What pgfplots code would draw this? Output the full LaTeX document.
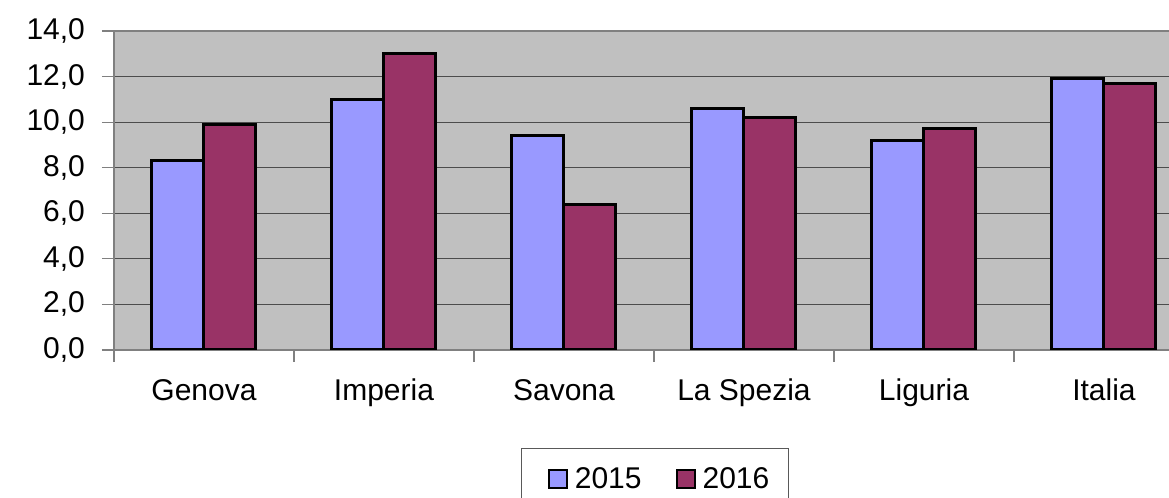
\documentclass[border=0pt]{standalone}
\usepackage{fontspec}
\setmainfont{Liberation Sans}
\usepackage{pgfplots}
\pgfplotsset{compat=1.18}
\definecolor{c2015}{RGB}{153,153,255}
\definecolor{c2016}{RGB}{153,51,102}
\definecolor{plotbg}{RGB}{192,192,192}
\definecolor{borderg}{RGB}{128,128,128}

\begin{document}
\begin{tikzpicture}
% picture is 1169x498 px at 0.5pt per px; the chart is cut at the right and bottom
\clip (0,0) rectangle (584.5pt,249pt);
\begin{axis}[
    at={(57pt,74pt)}, anchor=south west,
    scale only axis,
    width=540pt, height=159.5pt,
    xmin=-0.5, xmax=5.5,
    ymin=0, ymax=14,
    ybar=0pt,
    bar width=26pt,
    axis background/.style={fill=plotbg},
    axis line style={borderg, line width=0.6pt},
    xtick={0,1,2,3,4,5},
    xticklabels={Genova,Imperia,Savona,La Spezia,Liguria,Italia},
    major x tick style={draw=none},
    minor xtick={-0.5,0.5,1.5,2.5,3.5,4.5},
    minor tick length=6pt,
    minor x tick style={borderg, line width=0.6pt},
    ytick={0,2,...,14},
    major tick length=6pt,
    ytick style={borderg, line width=0.6pt},
    tick align=outside,
    tick pos=left,
    ymajorgrids,
    grid style={black!70, line width=0.6pt},
    yticklabel style={/pgf/number format/fixed, /pgf/number format/fixed zerofill,
        /pgf/number format/precision=1, /pgf/number format/use comma,
        /pgf/number format/assume math mode=true, xshift=-5pt},
    every tick label/.append style={font=\fontsize{15}{17}\selectfont},
    xticklabel style={text height=10.8pt, text depth=3.5pt, yshift=-5pt},
    legend style={at={(0.501,-0.307)}, anchor=north, draw=black!65, line width=0.5pt,
        font=\fontsize{15}{17}\selectfont, legend columns=2,
        inner xsep=7.5pt, inner ysep=7.5pt,
        /tikz/every even column/.append style={column sep=9.5pt}},
    legend image code/.code={\path[draw=none, fill=none] (0pt,0pt) -- (17pt,0pt);
        \draw[#1, line width=1pt] (6pt,-4.5pt) rectangle (15pt,4.5pt);},
]
\addplot[fill=c2015, draw=black, line width=1.5pt] coordinates {
    (0,8.3) (1,11.0) (2,9.4) (3,10.6) (4,9.2) (5,11.9)
};
\addlegendentry{2015}
\addplot[fill=c2016, draw=black, line width=1.5pt] coordinates {
    (0,9.9) (1,13.0) (2,6.4) (3,10.2) (4,9.7) (5,11.7)
};
\addlegendentry{2016}
\end{axis}
\end{tikzpicture}
\end{document}
